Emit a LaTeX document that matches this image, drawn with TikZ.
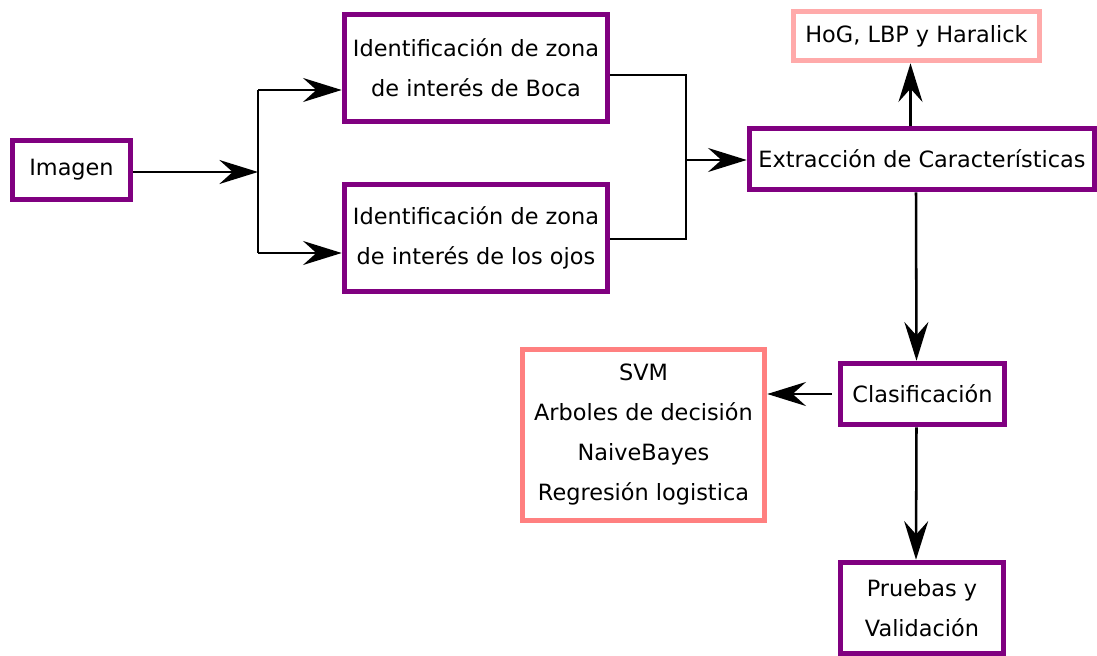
\documentclass[tikz,border=0pt]{standalone}
\usepackage{fontspec}
\setmainfont{DejaVu Sans}
\usetikzlibrary{arrows.meta,calc}
\definecolor{purp}{HTML}{800080}
\definecolor{pinkA}{HTML}{FFAAAA}
\definecolor{pinkB}{HTML}{FF8080}
\tikzset{
  box/.style={draw=purp, line width=4.2pt, fill=white, align=center, inner sep=0pt,
    font=\fontsize{16.8}{30}\selectfont},
  arr/.style={line width=1.9pt, -{Stealth[length=29pt,width=18pt,inset=10pt]}},
  ln/.style={line width=1.9pt}
}
\begin{document}
\begin{tikzpicture}[x=0.75pt,y=-0.75pt]
\useasboundingbox (0,0) rectangle (1097,656);
\node[box, minimum width=88.5pt, minimum height=44.25pt] (img) at (71.5,170) {Imagen};
\node[box, minimum width=197.25pt, minimum height=80.25pt] (boca) at (476,68) {Identificación de zona\\de interés de Boca};
\node[box, minimum width=197.25pt, minimum height=80.25pt] (ojos) at (476,238) {Identificación de zona\\de interés de los ojos};
\node[box, minimum width=258.75pt, minimum height=45.75pt] (ext) at (922,159) {Extracción de Características};
\node[box, draw=pinkA, minimum width=184.5pt, minimum height=36.75pt] (hog) at (916.5,36) {HoG, LBP y Haralick};
\node[box, draw=pinkB, minimum width=181.5pt, minimum height=128.25pt] (svm) at (643.5,435) {SVM\\Arboles de decisión\\NaiveBayes\\Regresión logistica};
\node[box, minimum width=123pt, minimum height=45.75pt] (cla) at (922.5,394) {Clasificación};
\node[box, minimum width=122.25pt, minimum height=68.25pt] (pru) at (922,608) {Pruebas y\\Validación};

\coordinate (j1t) at (258,90);
\coordinate (j1m) at (258,172);
\coordinate (j1b) at (258,253);
\coordinate (j2t) at (686,75);
\coordinate (j2m) at (686,160);
\coordinate (j2b) at (686,239);

\draw[arr] (img.east |- j1m) -- (j1m);
\draw[ln] (j1t) -- (j1b);
\draw[arr] (j1t) -- (boca.west |- j1t);
\draw[arr] (j1b) -- (ojos.west |- j1b);
\draw[ln] (boca.east |- j2t) -- (j2t) -- (j2b) -- (ojos.east |- j2b);
\draw[arr] (j2m) -- (ext.west |- j2m);
\draw[arr] ($(hog.south |- ext.north)+(-6,0)$) -- ($(hog.south)+(-6,0)$);
\draw[arr] ($(ext.south)+(-6,0)$) -- ($(cla.north)+(-6,0)$);
\draw[arr] ($(cla.west)+(-6,0)$) -- (svm.east |- cla.west);
\draw[arr] ($(cla.south)+(-6,0)$) -- ($(pru.north)+(-6,0)$);
\end{tikzpicture}
\end{document}
